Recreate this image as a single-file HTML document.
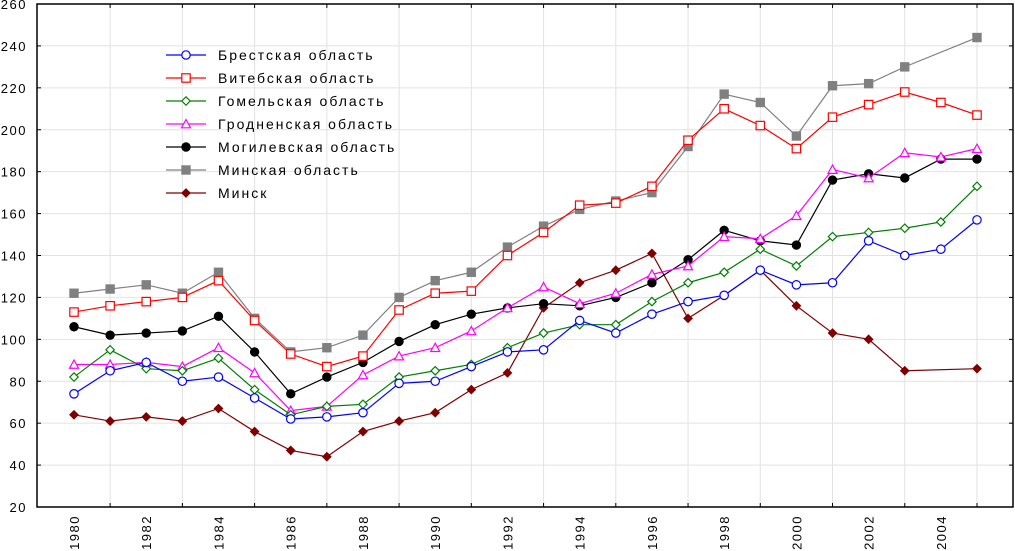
<!DOCTYPE html>
<html><head><meta charset="utf-8"><style>
body{margin:0;background:#fff;}
svg{display:block;font-family:"Liberation Sans",sans-serif;}
text{font-size:13px;letter-spacing:1.5px;fill:#000;}
text.lg{font-size:14px;letter-spacing:2px;}
</style></head><body>
<svg id="chart" width="1015" height="551" viewBox="0 0 1015 551"></svg>
<script>
const years=[1980,1981,1982,1983,1984,1985,1986,1987,1988,1989,1990,1991,1992,1993,1994,1995,1996,1997,1998,1999,2000,2001,2002,2003,2004,2005];
const brest=[74,85,89,80,82,72,62,63,65,79,80,87,94,95,109,103,112,118,121,133,126,127,147,140,143,157];
const vitebsk=[113,116,118,120,128,109,93,87,92,114,122,123,140,151,164,165,173,195,210,202,191,206,212,218,213,207];
const gomel=[82,95,86,85,91,76,64,68,69,82,85,88,96,103,107,107,118,127,132,143,135,149,151,153,156,173];
const grodno=[88,88,89,87,96,84,66,68,83,92,96,104,115,125,117,122,131,135,149,148,159,181,177,189,187,191];
const mogilev=[106,102,103,104,111,94,74,82,89,99,107,112,115,117,116,120,127,138,152,147,145,176,179,177,186,186];
const minskObl=[122,124,126,122,132,110,94,96,102,120,128,132,144,154,162,166,170,192,217,213,197,221,222,230,null,244];
const minsk=[64,61,63,61,67,56,47,44,56,61,65,76,84,115,127,133,141,110,121,133,116,103,100,85,null,86];
const yTicks=[20,40,60,80,100,120,140,160,180,200,220,240,260];
const xLabels=[1980,1982,1984,1986,1988,1990,1992,1994,1996,1998,2000,2002,2004];
const seriesNames=["Брестская область","Витебская область","Гомельская область","Гродненская область","Могилевская область","Минская область","Минск"];

const L=37,R=1013,T=4,B=507;
const X=y=>74+(y-1980)*36.12;
const Y=v=>B-(v-20)*(B-T)/240;
const svg=document.getElementById('chart');
const NS='http://www.w3.org/2000/svg';
function mk(tag,attrs,parent){const e=document.createElementNS(NS,tag);for(const k in attrs)e.setAttribute(k,attrs[k]);(parent||svg).appendChild(e);return e;}

for(const v of yTicks){if(v===20||v===260)continue;
 const g=mk('line',{x1:L,x2:R,y1:Y(v),y2:Y(v),stroke:'#e2e2e2'});
 
 }
for(let yr=1981;yr<=2005;yr+=2){
 const g=mk('line',{x1:X(yr),x2:X(yr),y1:T,y2:B,stroke:'#e2e2e2'});
 
 }
const fr=mk('rect',{x:L,y:T,width:R-L,height:B-T,fill:'none',stroke:'#000','stroke-width':1.5});


for(const v of yTicks){
 mk('line',{x1:L,x2:L+4,y1:Y(v),y2:Y(v),stroke:'#000'});
 mk('line',{x1:R-4,x2:R,y1:Y(v),y2:Y(v),stroke:'#000'});
 const t=mk('text',{x:27,y:Y(v)+5,'text-anchor':'end'});t.textContent=v;
 
 }
for(let yr=1981;yr<=2005;yr+=2){mk('line',{x1:X(yr),x2:X(yr),y1:B-4,y2:B,stroke:'#000'});mk('line',{x1:X(yr),x2:X(yr),y1:T,y2:T+4,stroke:'#000'});}
for(const yr of xLabels){
 const t=mk('text',{x:0,y:0,transform:`translate(${X(yr)+5},515) rotate(-90)`,'text-anchor':'end'});t.textContent=yr;
 
 }

function marker(kind,color,x,y,parent){
 if(kind==='circle')return mk('circle',{cx:x,cy:y,r:4.2,fill:'#fff',stroke:color,'stroke-width':1.2},parent);
 if(kind==='fcircle')return mk('circle',{cx:x,cy:y,r:4.2,fill:color,stroke:color},parent);
 if(kind==='square')return mk('rect',{x:x-4.2,y:y-4.2,width:8.4,height:8.4,fill:'#fff',stroke:color,'stroke-width':1.2},parent);
 if(kind==='fsquare')return mk('rect',{x:x-4.2,y:y-4.2,width:8.4,height:8.4,fill:color,stroke:color},parent);
 if(kind==='diamond')return mk('polygon',{points:`${x},${y-4.2} ${x+4.2},${y} ${x},${y+4.2} ${x-4.2},${y}`,fill:'#fff',stroke:color,'stroke-width':1.2},parent);
 if(kind==='fdiamond')return mk('polygon',{points:`${x},${y-4.2} ${x+4.2},${y} ${x},${y+4.2} ${x-4.2},${y}`,fill:color,stroke:color},parent);
 if(kind==='triangle')return mk('polygon',{points:`${x},${y-4.5} ${x+4.5},${y+3.8} ${x-4.5},${y+3.8}`,fill:'#fff',stroke:color,'stroke-width':1.2},parent);
}
const series=[
 {d:brest,c:'#0000ff',m:'circle',n:'brest-series'},
 {d:vitebsk,c:'#ff0000',m:'square',n:'vitebsk-series'},
 {d:gomel,c:'#008000',m:'diamond',n:'gomel-series'},
 {d:grodno,c:'#ff00ff',m:'triangle',n:'grodno-series'},
 {d:mogilev,c:'#000000',m:'fcircle',n:'mogilev-series'},
 {d:minskObl,c:'#808080',m:'fsquare',n:'minsk-oblast-series'},
 {d:minsk,c:'#800000',m:'fdiamond',n:'minsk-city-series'}];
series.slice().reverse().forEach(s=>{
 const g=mk('g',{});
 
 
 const pts=[];years.forEach((yr,i)=>{if(s.d[i]!=null)pts.push([X(yr),Y(s.d[i])]);});
 mk('polyline',{points:pts.map(p=>p.join(',')).join(' '),fill:'none',stroke:s.c,'stroke-width':1.2},g);
 pts.forEach(p=>{const m=marker(s.m,s.c,p[0],p[1],g);
  
  });
});
const lg=mk('g',{});


seriesNames.forEach((nm,i)=>{
 const y=55+i*23,s=series[i];
 const e=mk('g',{},lg);
 
 
 mk('line',{x1:166,x2:206,y1:y,y2:y,stroke:s.c,'stroke-width':1.2},e);
 marker(s.m,s.c,186,y,e);
 const t=mk('text',{x:218,y:y+5,class:'lg'},e);t.textContent=nm;
});
</script>
</body></html>
